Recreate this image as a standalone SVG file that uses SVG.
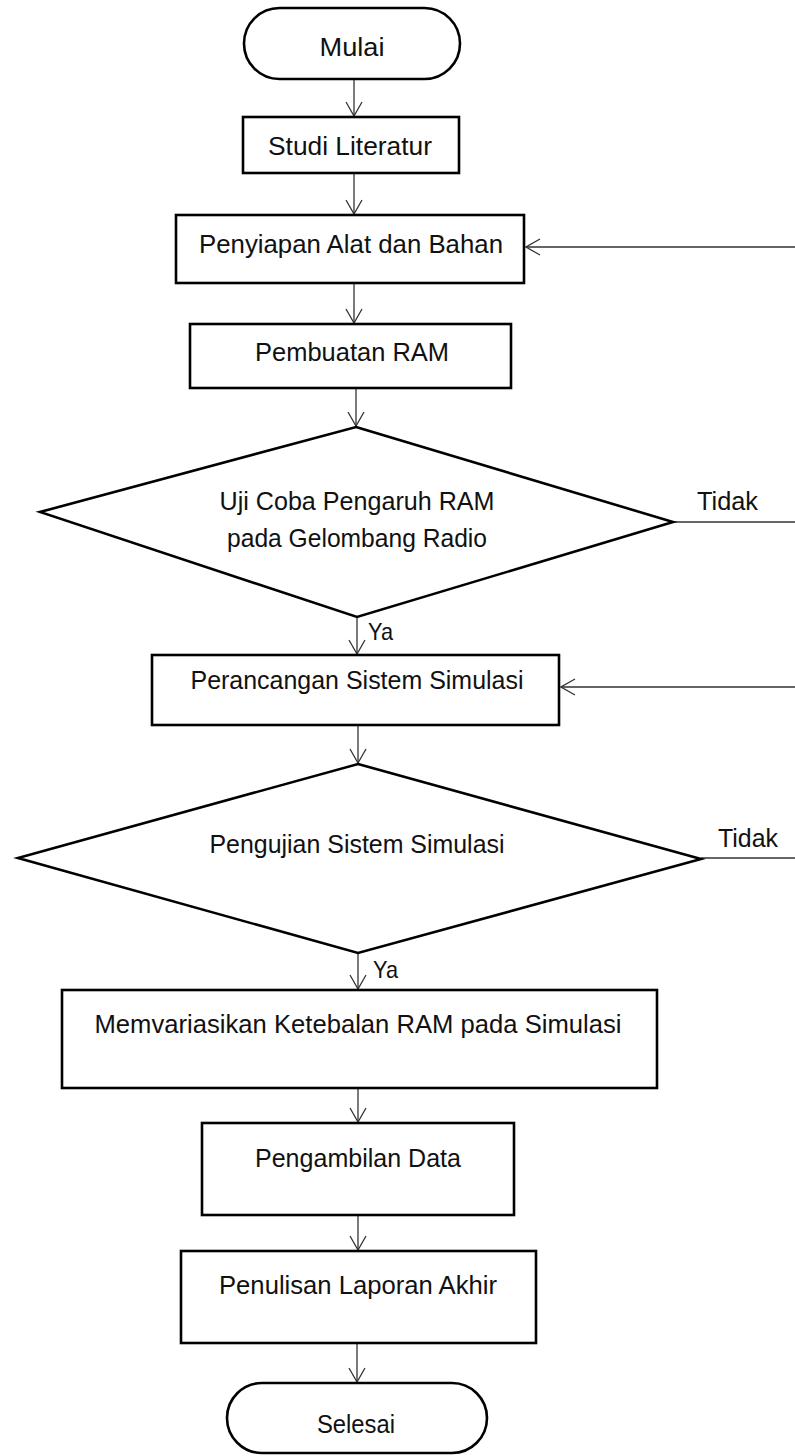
<svg xmlns="http://www.w3.org/2000/svg" width="795" height="1456" viewBox="0 0 795 1456">
<defs>
<marker id="arr" viewBox="0 0 16 18" refX="15" refY="9" markerWidth="16" markerHeight="18" markerUnits="userSpaceOnUse" orient="auto">
<path d="M1,1 L15,9 L1,17" fill="none" stroke="#333" stroke-width="1.3"/>
</marker>
<style>
.box{fill:#fff;stroke:#000;stroke-width:2.6}
.t{font-family:"Liberation Sans",Arial,sans-serif;font-size:26px;fill:#111;text-anchor:middle}
.lbl{font-family:"Liberation Sans",Arial,sans-serif;font-size:26px;fill:#111}
.c{fill:none;stroke:#333;stroke-width:1.3}
</style>
</defs>
<rect width="795" height="1456" fill="#fff"/>
<g id="connectors">
<line class="c" x1="354" y1="79" x2="354" y2="116" marker-end="url(#arr)"/>
<line class="c" x1="354" y1="173" x2="354" y2="214" marker-end="url(#arr)"/>
<line class="c" x1="354" y1="283" x2="354" y2="323" marker-end="url(#arr)"/>
<line class="c" x1="356" y1="388" x2="356" y2="426" marker-end="url(#arr)"/>
<line class="c" x1="357" y1="617" x2="357" y2="654" marker-end="url(#arr)"/>
<line class="c" x1="358" y1="725" x2="358" y2="763" marker-end="url(#arr)"/>
<line class="c" x1="358" y1="953" x2="358" y2="989" marker-end="url(#arr)"/>
<line class="c" x1="358" y1="1088" x2="358" y2="1122" marker-end="url(#arr)"/>
<line class="c" x1="358" y1="1215" x2="358" y2="1250" marker-end="url(#arr)"/>
<line class="c" x1="357" y1="1343" x2="357" y2="1382" marker-end="url(#arr)"/>
<path class="c" d="M673,522 L800,522 L800,247 L526,247" marker-end="url(#arr)"/>
<path class="c" d="M701,858 L800,858 L800,687 L561,687" marker-end="url(#arr)"/>
<text class="lbl" x="697" y="510" textLength="61" lengthAdjust="spacingAndGlyphs">Tidak</text>
<text class="lbl" x="718" y="847" textLength="60" lengthAdjust="spacingAndGlyphs">Tidak</text>
<text class="lbl" x="368" y="640" textLength="25" lengthAdjust="spacingAndGlyphs" style="font-size:24px">Ya</text>
<text class="lbl" x="373" y="978" textLength="25" lengthAdjust="spacingAndGlyphs" style="font-size:24px">Ya</text>
</g>
<g id="mulai">
<rect class="box" x="244" y="8" width="216" height="71" rx="35.5" ry="35.5"/>
<text class="t" x="352" y="56" textLength="65" lengthAdjust="spacingAndGlyphs">Mulai</text>
</g>
<g id="studi">
<rect class="box" x="243" y="117" width="216" height="56"/>
<text class="t" x="350" y="155" textLength="164" lengthAdjust="spacingAndGlyphs">Studi Literatur</text>
</g>
<g id="penyiapan">
<rect class="box" x="176" y="215" width="348" height="68"/>
<text class="t" x="351" y="253" textLength="304" lengthAdjust="spacingAndGlyphs">Penyiapan Alat dan Bahan</text>
</g>
<g id="pembuatan">
<rect class="box" x="190" y="324" width="321" height="64"/>
<text class="t" x="352" y="361" textLength="194" lengthAdjust="spacingAndGlyphs">Pembuatan RAM</text>
</g>
<g id="ujicoba">
<polygon class="box" points="356,427 673,522 357,617 40,512"/>
<text class="t" x="357" y="510" textLength="275" lengthAdjust="spacingAndGlyphs">Uji Coba Pengaruh RAM</text>
<text class="t" x="357" y="547" textLength="260" lengthAdjust="spacingAndGlyphs">pada Gelombang Radio</text>
</g>
<g id="perancangan">
<rect class="box" x="152" y="655" width="407" height="70"/>
<text class="t" x="357" y="689" textLength="333" lengthAdjust="spacingAndGlyphs">Perancangan Sistem Simulasi</text>
</g>
<g id="pengujian">
<polygon class="box" points="358,764 701,859 358,953 18,858"/>
<text class="t" x="357" y="853" textLength="295" lengthAdjust="spacingAndGlyphs">Pengujian Sistem Simulasi</text>
</g>
<g id="memvariasikan">
<rect class="box" x="62" y="990" width="595" height="98"/>
<text class="t" x="358" y="1033" textLength="527" lengthAdjust="spacingAndGlyphs">Memvariasikan Ketebalan RAM pada Simulasi</text>
</g>
<g id="pengambilan">
<rect class="box" x="202" y="1123" width="312" height="92"/>
<text class="t" x="358" y="1167" textLength="206" lengthAdjust="spacingAndGlyphs">Pengambilan Data</text>
</g>
<g id="penulisan">
<rect class="box" x="181" y="1251" width="355" height="92"/>
<text class="t" x="358" y="1294" textLength="278" lengthAdjust="spacingAndGlyphs">Penulisan Laporan Akhir</text>
</g>
<g id="selesai">
<rect class="box" x="227" y="1383" width="260" height="70" rx="35" ry="35"/>
<text class="t" x="356" y="1433" textLength="78" lengthAdjust="spacingAndGlyphs">Selesai</text>
</g>
</svg>
